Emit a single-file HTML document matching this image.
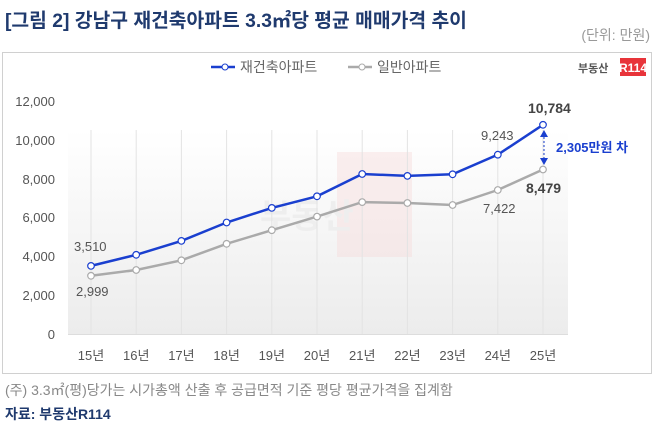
<!DOCTYPE html>
<html><head><meta charset="utf-8"><style>
body{margin:0;width:655px;height:429px;background:#fff;overflow:hidden;font-family:"Liberation Sans","Noto Sans CJK KR",sans-serif}
</style></head><body>
<svg width="655" height="429" xmlns="http://www.w3.org/2000/svg" font-family="Liberation Sans, Noto Sans CJK KR, sans-serif">
<defs><linearGradient id="g" x1="0" y1="0" x2="0" y2="1"><stop offset="0" stop-color="#fff"/><stop offset="1" stop-color="#ececec"/></linearGradient></defs>
<text x="5" y="27" font-size="19.3" font-weight="bold" fill="#1f3a6e">[그림 2] 강남구 재건축아파트 3.3㎡당 평균 매매가격 추이</text>
<text x="650" y="40" font-size="14" fill="#999" text-anchor="end">(단위: 만원)</text>
<rect x="2.5" y="52.5" width="649" height="321" fill="#fff" stroke="#d0d0d0"/>
<rect x="68" y="130" width="500" height="205" fill="url(#g)"/>
<rect x="337" y="152" width="75" height="105" fill="#f6dcdc" opacity="0.45"/>
<text x="260" y="228" font-size="34" font-weight="bold" fill="#eeeeee">부동산</text>
<g stroke="#e3e3e3" stroke-width="1">
<line x1="91" y1="130" x2="91" y2="334"/><line x1="136.2" y1="130" x2="136.2" y2="334"/><line x1="181.4" y1="130" x2="181.4" y2="334"/><line x1="226.6" y1="130" x2="226.6" y2="334"/><line x1="271.8" y1="130" x2="271.8" y2="334"/><line x1="317" y1="130" x2="317" y2="334"/><line x1="362.2" y1="130" x2="362.2" y2="334"/><line x1="407.4" y1="130" x2="407.4" y2="334"/><line x1="452.6" y1="130" x2="452.6" y2="334"/><line x1="497.8" y1="130" x2="497.8" y2="334"/><line x1="543" y1="130" x2="543" y2="334"/>
</g>
<line x1="68" y1="334.5" x2="568" y2="334.5" stroke="#ddd"/>
<g font-size="13" fill="#555" text-anchor="end">
<text x="55" y="106">12,000</text><text x="55" y="145">10,000</text><text x="55" y="184">8,000</text><text x="55" y="222">6,000</text><text x="55" y="261">4,000</text><text x="55" y="300">2,000</text><text x="55" y="339">0</text>
</g>
<g font-size="13" fill="#555" text-anchor="middle">
<text x="91" y="360">15년</text><text x="136.2" y="360">16년</text><text x="181.4" y="360">17년</text><text x="226.6" y="360">18년</text><text x="271.8" y="360">19년</text><text x="317" y="360">20년</text><text x="362.2" y="360">21년</text><text x="407.4" y="360">22년</text><text x="452.6" y="360">23년</text><text x="497.8" y="360">24년</text><text x="543" y="360">25년</text>
</g>
<polyline fill="none" stroke="#aaa" stroke-width="2.5" points="91,275.8 136.2,270 181.4,260.3 226.6,243.8 271.8,230.2 317,216.6 362.2,202.1 407.4,203 452.6,205 497.8,190 543,169.5"/>
<g fill="#fff" stroke="#aaa" stroke-width="1.2">
<circle cx="91" cy="275.8" r="3.3"/><circle cx="136.2" cy="270" r="3.3"/><circle cx="181.4" cy="260.3" r="3.3"/><circle cx="226.6" cy="243.8" r="3.3"/><circle cx="271.8" cy="230.2" r="3.3"/><circle cx="317" cy="216.6" r="3.3"/><circle cx="362.2" cy="202.1" r="3.3"/><circle cx="407.4" cy="203" r="3.3"/><circle cx="452.6" cy="205" r="3.3"/><circle cx="497.8" cy="190" r="3.3"/><circle cx="543" cy="169.5" r="3.3"/>
</g>
<polyline fill="none" stroke="#1a3fcf" stroke-width="2.5" points="91,265.9 136.2,254.8 181.4,240.9 226.6,222.5 271.8,207.9 317,196.3 362.2,174 407.4,175.9 452.6,174.3 497.8,154.7 543,124.8"/>
<g fill="#fff" stroke="#1a3fcf" stroke-width="1.2">
<circle cx="91" cy="265.9" r="3.3"/><circle cx="136.2" cy="254.8" r="3.3"/><circle cx="181.4" cy="240.9" r="3.3"/><circle cx="226.6" cy="222.5" r="3.3"/><circle cx="271.8" cy="207.9" r="3.3"/><circle cx="317" cy="196.3" r="3.3"/><circle cx="362.2" cy="174" r="3.3"/><circle cx="407.4" cy="175.9" r="3.3"/><circle cx="452.6" cy="174.3" r="3.3"/><circle cx="497.8" cy="154.7" r="3.3"/><circle cx="543" cy="124.8" r="3.3"/>
</g>
<g font-size="13" fill="#555">
<text x="74" y="251">3,510</text><text x="76" y="296">2,999</text><text x="481" y="140">9,243</text><text x="483" y="213">7,422</text>
</g>
<g font-size="14" fill="#444" font-weight="bold"><text x="528" y="113">10,784</text><text x="526" y="193">8,479</text></g>
<line x1="544" y1="137" x2="544" y2="158" stroke="#1a3fcf" stroke-dasharray="2,2"/>
<polygon points="544,130 540,137 548,137" fill="#1a3fcf"/><polygon points="544,165 540,158 548,158" fill="#1a3fcf"/>
<text x="556" y="152" font-size="13" font-weight="bold" fill="#1a3fcf">2,305만원 차</text>
<line x1="211" y1="67" x2="235" y2="67" stroke="#1a3fcf" stroke-width="2.5"/><circle cx="225" cy="67" r="3" fill="#fff" stroke="#1a3fcf"/>
<text x="240" y="72" font-size="14" fill="#666">재건축아파트</text>
<line x1="348" y1="67" x2="372" y2="67" stroke="#aaa" stroke-width="2.5"/><circle cx="362" cy="67" r="3" fill="#fff" stroke="#aaa"/>
<text x="377" y="72" font-size="14" fill="#666">일반아파트</text>
<text x="578" y="72" font-size="11" font-weight="bold" fill="#555">부동산</text>
<rect x="620" y="58" width="26" height="18" fill="#e8343a"/><text x="633" y="72" font-size="12" font-weight="bold" fill="#fff" text-anchor="middle">R114</text>
<text x="5" y="395" font-size="14" fill="#888">(주) 3.3㎡(평)당가는 시가총액 산출 후 공급면적 기준 평당 평균가격을 집계함</text>
<text x="5" y="419" font-size="14" font-weight="bold" fill="#1f3a6e">자료: 부동산R114</text>
</svg>
</body></html>
